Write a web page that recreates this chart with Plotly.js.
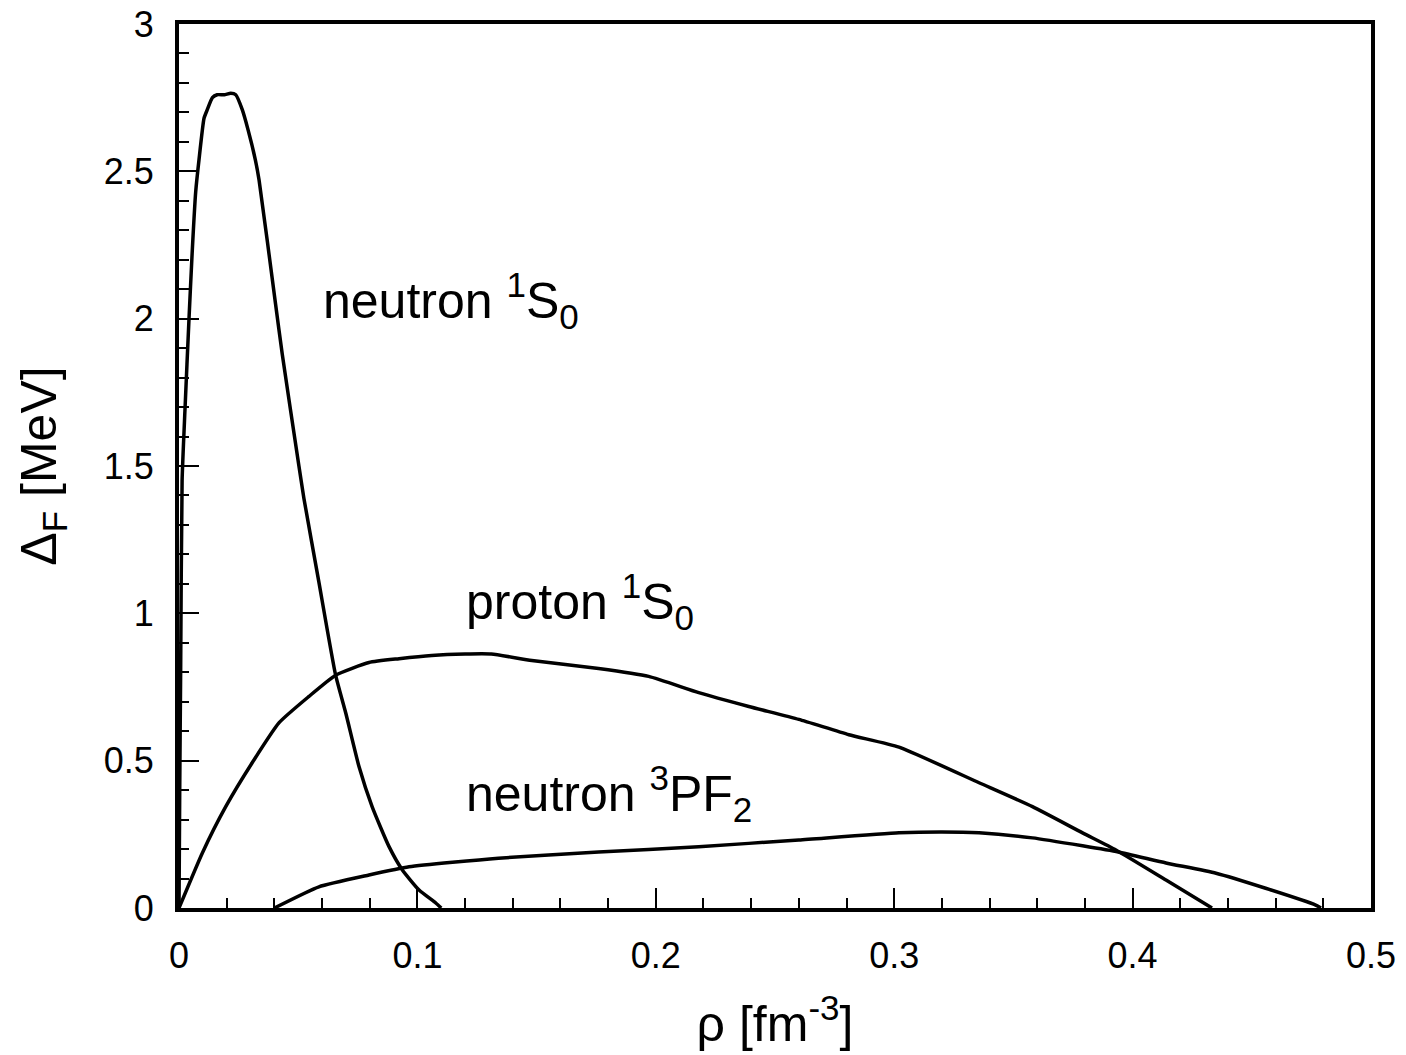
<!DOCTYPE html>
<html>
<head>
<meta charset="utf-8">
<script src="https://cdn.plot.ly/plotly-3.0.1.min.js"></script>
<style>html,body{margin:0;padding:0;background:#fff;}#chart{width:1406px;height:1055px;}</style>
</head>
<body>
<div id="chart"></div>
<script>
// neutron 1S0 gap
const n1s0_rho = [0, 0.0003, 0.0007, 0.0013, 0.0025, 0.0042, 0.0055, 0.007, 0.0084, 0.0105, 0.0119, 0.014, 0.016, 0.019, 0.0217, 0.0238, 0.0265, 0.029, 0.032, 0.0336, 0.0405, 0.0433, 0.0503, 0.0524, 0.0587, 0.0657, 0.07, 0.0755, 0.081, 0.088, 0.0937, 0.1007, 0.1077, 0.11];
const n1s0_gap = [0, 0.4, 0.81, 1.45, 1.69, 2.0, 2.22, 2.43, 2.54, 2.68, 2.71, 2.75, 2.76, 2.76, 2.765, 2.76, 2.71, 2.64, 2.54, 2.47, 2.05, 1.88, 1.50, 1.39, 1.105, 0.79, 0.66, 0.48, 0.344, 0.21, 0.129, 0.061, 0.017, 0];
// proton 1S0 gap
const p1s0_rho = [0, 0.0098, 0.0196, 0.0307, 0.042, 0.0545, 0.0657, 0.0797, 0.0923, 0.106, 0.12, 0.131, 0.148, 0.176, 0.197, 0.218, 0.239, 0.26, 0.281, 0.302, 0.3356, 0.358, 0.379, 0.393, 0.414, 0.4333];
const p1s0_gap = [0, 0.187, 0.344, 0.493, 0.629, 0.718, 0.79, 0.833, 0.846, 0.857, 0.862, 0.862, 0.84, 0.813, 0.786, 0.731, 0.684, 0.64, 0.588, 0.546, 0.425, 0.344, 0.255, 0.197, 0.095, 0];
// neutron 3PF2 gap
const n3pf2_rho = [0.04, 0.0587, 0.0797, 0.0965, 0.134, 0.176, 0.218, 0.26, 0.302, 0.32, 0.3356, 0.358, 0.379, 0.394, 0.414, 0.435, 0.4558, 0.4768, 0.479];
const n3pf2_gap = [0, 0.072, 0.112, 0.14, 0.169, 0.19, 0.208, 0.231, 0.255, 0.258, 0.255, 0.238, 0.211, 0.19, 0.153, 0.118, 0.067, 0.01, 0];

const labelText = ['neutron <sup>1</sup>S<sub>0</sub>', 'proton <sup>1</sup>S<sub>0</sub>', 'neutron <sup>3</sup>PF<sub>2</sub>'];
const labelRho = [0.0596, 0.1196, 0.1196];
const labelGap = [2.06, 1.04, 0.39];

const FONT = 'Liberation Sans, Arial, Helvetica, sans-serif';
const lineStyle = {color: '#000', width: 3.5, shape: 'spline', smoothing: 0.5};

const traces = [
  {x: n1s0_rho, y: n1s0_gap, mode: 'lines', line: lineStyle, hoverinfo: 'skip'},
  {x: p1s0_rho, y: p1s0_gap, mode: 'lines', line: lineStyle, hoverinfo: 'skip'},
  {x: n3pf2_rho, y: n3pf2_gap, mode: 'lines', line: lineStyle, hoverinfo: 'skip'}
];

const annotations = labelText.map((t, i) => ({
  x: labelRho[i], y: labelGap[i], xref: 'x', yref: 'y', text: t,
  showarrow: false, xanchor: 'left', yanchor: 'middle',
  font: {family: FONT, size: 50, color: '#000'}
}));

const axisCommon = {
  showgrid: false, zeroline: false, showline: true, linewidth: 4, linecolor: '#000',
  mirror: true, ticks: 'inside', ticklen: 20, tickwidth: 2, tickcolor: '#000',
  tickfont: {family: FONT, size: 36, color: '#000'}
};

const layout = {
  width: 1406, height: 1055,
  margin: {l: 179, r: 35, t: 24, b: 147},
  paper_bgcolor: '#fff', plot_bgcolor: '#fff',
  showlegend: false,
  font: {family: FONT, color: '#000'},
  xaxis: Object.assign({}, axisCommon, {
    range: [0, 0.5], tick0: 0, dtick: 0.1, ticklabelstandoff: 13,
    minor: {dtick: 0.02, ticks: 'inside', ticklen: 10, tickwidth: 2, tickcolor: '#000', showgrid: false},
    title: {text: 'ρ [fm<sup>-3</sup>]', font: {family: FONT, size: 50, color: '#000'}, standoff: 32}
  }),
  yaxis: Object.assign({}, axisCommon, {
    range: [0, 3], tick0: 0, dtick: 0.5, ticklabelstandoff: 14,
    minor: {dtick: 0.1, ticks: 'inside', ticklen: 10, tickwidth: 2, tickcolor: '#000', showgrid: false},
    title: {text: 'Δ<sub>F</sub> [MeV]', font: {family: FONT, size: 50, color: '#000'}, standoff: 32}
  }),
  annotations: annotations
};

Plotly.newPlot('chart', traces, layout, {displayModeBar: false, staticPlot: true});
</script>
</body>
</html>
